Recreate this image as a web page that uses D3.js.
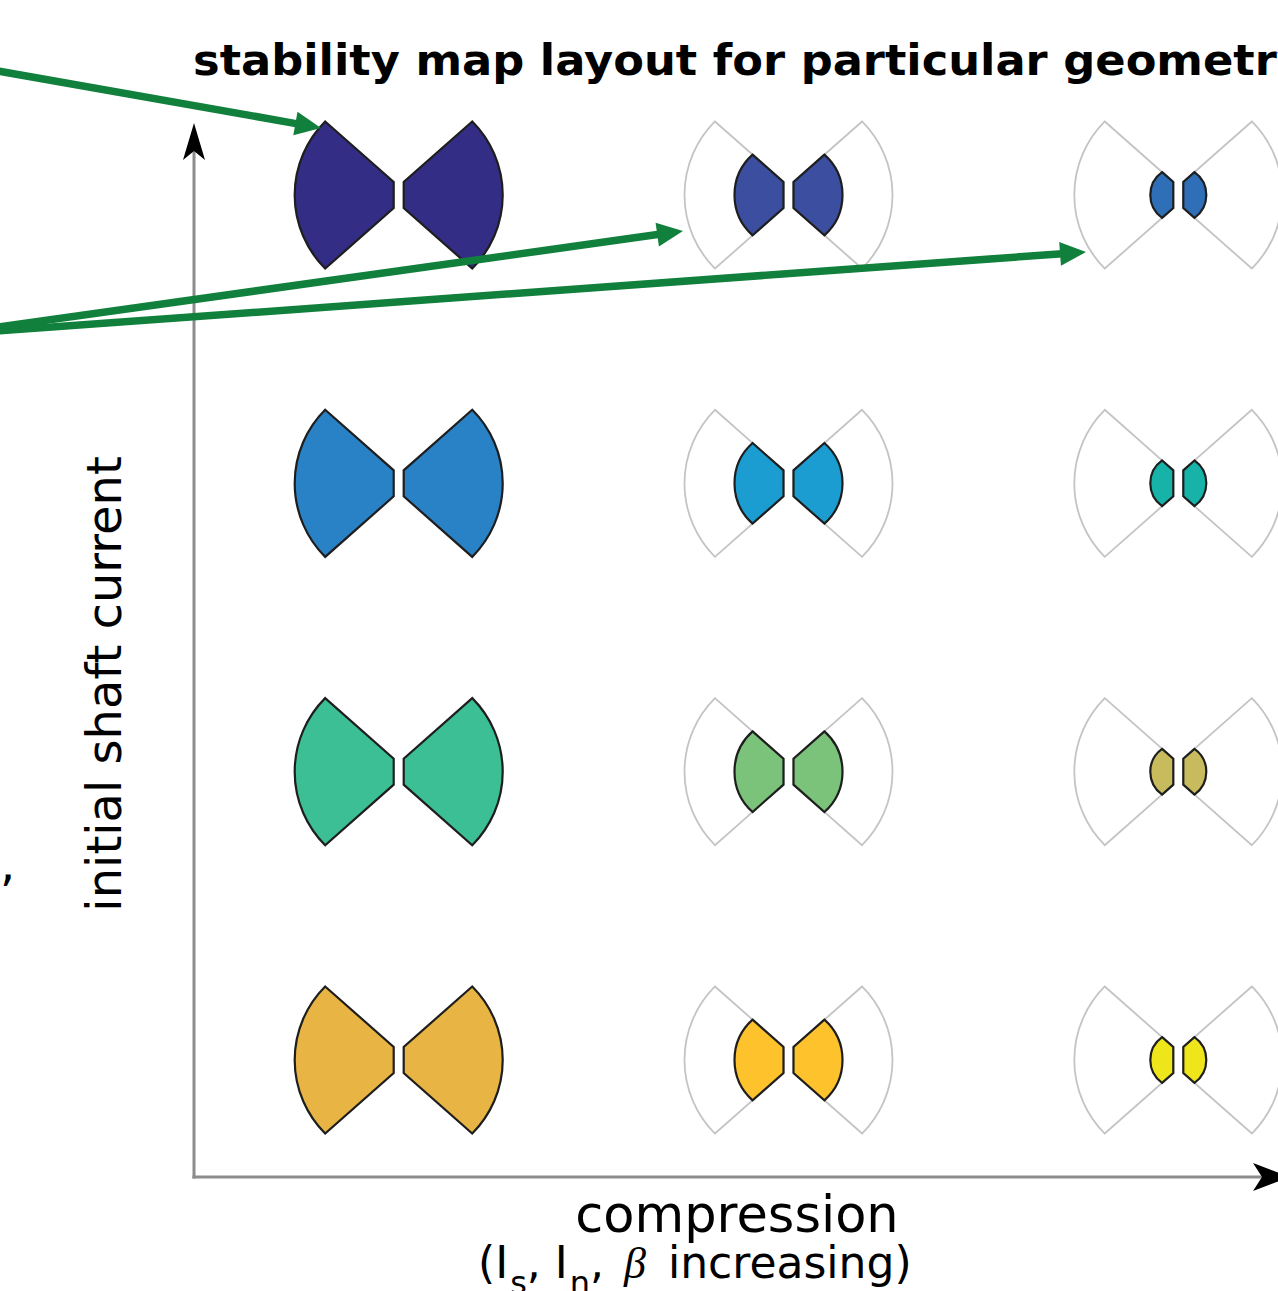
<!DOCTYPE html>
<html>
<head>
<meta charset="utf-8">
<script src="https://cdn.jsdelivr.net/npm/d3@7"></script>
<style>
  html, body { margin: 0; padding: 0; background: #fff; }
  svg { display: block; }
</style>
</head>
<body>
<svg id="chart" width="1278" height="1291"></svg>
<script>
// ---- data ----
const compression = ["low", "medium", "high"];                  // columns (left -> right)
const shaftCurrent = ["level4", "level3", "level2", "level1"];  // rows (top -> bottom)
const stableRadius = [104, 54, 28];                             // radius of stable wedge per compression level
const fillRow1 = ["#332d85", "#3b4e9f", "#2f6fb8"];
const fillRow2 = ["#2a82c6", "#1c9dd1", "#17b3a8"];
const fillRow3 = ["#3cbf95", "#7bc27b", "#c8bb5e"];
const fillRow4 = ["#e8b544", "#fdc22c", "#efe51b"];
const fills = [fillRow1, fillRow2, fillRow3, fillRow4];
const titleText = "stability map layout for particular geometry";
const yLabel = "initial shaft current";
const xLabel = "compression";
// annotation arrows: start (off the left edge) and target point
const pointerStarts = [[-2, 71], [-2, 327], [-2, 331]];
const pointerTargets = [[321, 128], [683, 231], [1086, 252]];

// ---- layout ----
const svg = d3.select("#chart");
const x = d3.scalePoint().domain(compression).range([398.7, 1178.3]);
const y = d3.scalePoint().domain(shaftCurrent).range([195, 1060]);

const R0 = 104, gap = 5, flat = 13;
const tip0 = [-R0 * Math.SQRT1_2, -R0 * Math.SQRT1_2];
const C = [-gap, -flat];

function wedgeTip(r) {
  if (r >= R0) return tip0;
  const d = [tip0[0] - C[0], tip0[1] - C[1]];
  const a = d[0] * d[0] + d[1] * d[1];
  const b = 2 * (C[0] * d[0] + C[1] * d[1]);
  const c = C[0] * C[0] + C[1] * C[1] - r * r;
  const t = (-b + Math.sqrt(b * b - 4 * a * c)) / (2 * a);
  return [C[0] + t * d[0], C[1] + t * d[1]];
}
function wedge(r, left) {
  const tp = wedgeTip(r);
  const m = left ? 1 : -1;
  return `M${m * tp[0]},${tp[1]}L${m * C[0]},${C[1]}L${m * C[0]},${-C[1]}L${m * tp[0]},${-tp[1]}` +
    `A${r},${r} 0 0 ${left ? 1 : 0} ${m * tp[0]},${tp[1]}Z`;
}

// glyph cells
const cells = [];
shaftCurrent.forEach((row, ri) => compression.forEach((col, ci) => {
  cells.push({ row, col, ri, ci, r: stableRadius[ci], fill: fills[ri][ci] });
}));

const g = svg.append("g").attr("class", "glyphs");
const cell = g.selectAll("g.cell").data(cells).join("g")
  .attr("class", "cell")
  .attr("transform", d => `translate(${x(d.col)},${y(d.row)})`);

cell.filter(d => d.r < R0).selectAll("path.outline").data([true, false]).join("path")
  .attr("class", "outline")
  .attr("d", l => wedge(R0, l))
  .attr("fill", "none").attr("stroke", "#c4c4c4").attr("stroke-width", 1.8);

cell.selectAll("path.stable").data(d => [{ d, l: true }, { d, l: false }]).join("path")
  .attr("class", "stable")
  .attr("d", o => wedge(o.d.r, o.l))
  .attr("fill", o => o.d.fill).attr("stroke", "#1e1e1e").attr("stroke-width", 2.2)
  .attr("stroke-linejoin", "miter");

// axes
const axisColor = "#8c8c8c";
const x0 = 194, yBase = 1177;
svg.append("line").attr("x1", x0).attr("y1", yBase + 1.5).attr("x2", x0).attr("y2", 150)
  .attr("stroke", axisColor).attr("stroke-width", 3);
svg.append("line").attr("x1", x0 - 1.5).attr("y1", yBase).attr("x2", 1265).attr("y2", yBase)
  .attr("stroke", axisColor).attr("stroke-width", 3);
svg.append("path").attr("d", `M${x0},123 L${x0 + 11},160 L${x0},151 L${x0 - 11},160 Z`).attr("fill", "#000");
svg.append("path").attr("d", `M1290,${yBase} L1253,${yBase - 14} L1262,${yBase} L1253,${yBase + 14} Z`).attr("fill", "#000");

// title
svg.append("text").attr("x", 193).attr("y", 75)
  .attr("font-family", "DejaVu Sans").attr("font-weight", "bold").attr("font-size", 42)
  .attr("textLength", 1113).attr("lengthAdjust", "spacingAndGlyphs")
  .attr("fill", "#000").text(titleText);

// y label
svg.append("text").attr("transform", "translate(121,684) rotate(-90)")
  .attr("text-anchor", "middle").attr("font-family", "DejaVu Sans").attr("font-size", 48)
  .attr("fill", "#000").text(yLabel);

// x label
svg.append("text").attr("x", 737).attr("y", 1232).attr("text-anchor", "middle")
  .attr("font-family", "DejaVu Sans").attr("font-size", 51).attr("fill", "#000").text(xLabel);

const sub = svg.append("text").attr("x", 478).attr("y", 1278)
  .attr("font-family", "DejaVu Sans").attr("font-size", 44).attr("fill", "#000");
sub.append("tspan").text("(I");
sub.append("tspan").attr("dy", 16).attr("dx", 2).attr("font-size", 32).text("s");
sub.append("tspan").attr("dy", -16).text(", I");
sub.append("tspan").attr("dy", 16).attr("dx", 2).attr("font-size", 32).text("n");
sub.append("tspan").attr("dy", -16).text(",");
sub.append("tspan").attr("dx", 20).attr("font-family", "Liberation Serif").attr("font-style", "italic").text("β");
sub.append("tspan").attr("dx", 8).text(" increasing)");

// stray comma from cropped text at left
svg.append("text").attr("x", 0).attr("y", 880).attr("font-family", "DejaVu Sans")
  .attr("font-size", 48).attr("fill", "#000").text(",");

// green pointer arrows
const green = "#10803c";
pointerStarts.forEach((s, i) => {
  const t = pointerTargets[i];
  const ang = Math.atan2(t[1] - s[1], t[0] - s[0]);
  const L = 26, W = 12;
  const bx = t[0] - L * Math.cos(ang), by = t[1] - L * Math.sin(ang);
  svg.append("line").attr("x1", s[0]).attr("y1", s[1]).attr("x2", bx + 2 * Math.cos(ang)).attr("y2", by + 2 * Math.sin(ang))
    .attr("stroke", green).attr("stroke-width", 7.5);
  const px = -Math.sin(ang) * W, py = Math.cos(ang) * W;
  svg.append("path")
    .attr("d", `M${t[0]},${t[1]}L${bx + px},${by + py}L${bx - px},${by - py}Z`)
    .attr("fill", green);
});
</script>
</body>
</html>
